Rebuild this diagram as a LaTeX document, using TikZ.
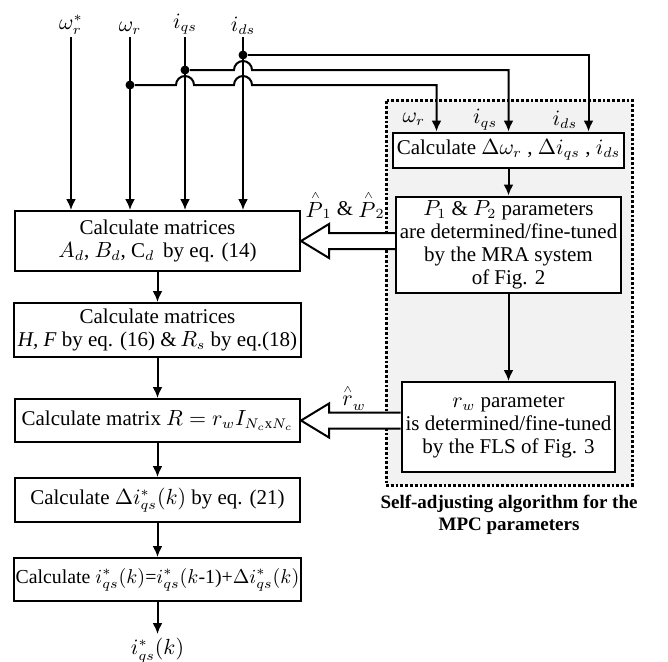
\documentclass[tikz,border=0pt]{standalone}
\usepackage{fontspec}
\setmainfont{Liberation Serif}
\usetikzlibrary{arrows.meta, backgrounds, calc, fit, positioning}
\tikzset{
  blk/.style    = {draw, fill=white, line width=1pt, align=center,
                   inner sep=2pt, minimum width=142.5pt},
  flow/.style   = {-{Latex[length=5.5pt,width=5pt]}, line width=1pt},
  wire/.style   = {line width=1pt},
  dot/.style    = {circle, fill, inner sep=0pt, minimum size=4.5pt},
  sig/.style    = {inner sep=1pt},
  % the two hollow arrows carry parameters, not signals
  fat/.style    = {draw, fill=white, line width=1pt, line join=miter},
  region/.style = {draw, fill=black!5, line width=1.5pt,
                   dash pattern=on 1.4pt off 1pt, inner sep=0pt},
  capt/.style   = {font=\fontsize{9.5}{11}\selectfont\bfseries, align=center,
                   inner sep=1pt},
}
\newcommand{\esthat}[1]{\stackrel{\scriptscriptstyle\wedge}{#1}}

\begin{document}
\begin{tikzpicture}[x=0.5pt, y=-0.5pt, font=\fontsize{10.5}{11.5}\selectfont]
  \useasboundingbox (0,0) rectangle (668,661);

  %% ---------------- MPC chain ----------------
  \node[blk, minimum height=30pt] (abc) at (157.5,241)
       {Calculate matrices\\$A_d$, $B_d$, C$_d$\, by eq. (14)};
  \node[blk, below=15pt of abc, minimum height=27pt] (hf)
       {Calculate matrices\\\textit{H, F} by eq. (16) \&\,$R_s$ by eq.(18)};
  \node[blk, below=20pt of hf, minimum height=21.5pt] (rmat)
       {Calculate matrix $R = r_w I_{N_c\mathrm{x}N_c}$};
  \node[blk, below=17pt of rmat, minimum height=22pt] (dik)
       {Calculate $\Delta i_{qs}^*(k)$ by eq. (21)};
  \node[blk, below=17pt of dik, minimum height=21.5pt,
        font=\fontsize{9.9}{11}\selectfont, inner xsep=1pt] (iqk)
       {Calculate $i_{qs}^*(k)$=$i_{qs}^*(k$-1)+$\Delta i_{qs}^*(k)$};
  \node[sig, inner sep=2pt, below=16pt of iqk] (out) {$i_{qs}^*(k)$};

  \draw[flow] (abc) -- (hf);
  \draw[flow] (hf) -- (rmat);
  \draw[flow] (rmat) -- (dik);
  \draw[flow] (dik) -- (iqk);
  \draw[flow] (iqk) -- (out);

  %% ---------------- inputs ----------------
  \node[sig, anchor=south] (lref) at (71,37) {$\omega_r^*$};
  \node[sig, anchor=south] (lw) at (130,37) {$\omega_r$};
  \node[sig, anchor=south] (lq) at (185,37) {$i_{qs}$};
  \node[sig, anchor=south] (ld) at (243,37) {$i_{ds}$};

  \foreach \s in {lref, lw, lq, ld}
    \draw[flow] (\s.south) -- (\s.south |- abc.north);

  \node[dot] (jd) at (243,55) {};
  \node[dot] (jq) at (185,70) {};
  \node[dot] (jw) at (130,85) {};

  %% ---------------- self-adjusting part ----------------
  \node[blk, minimum width=109.5pt, minimum height=17.5pt] (dcalc) at (508.5,150)
       {Calculate $\Delta\omega_r$ , $\Delta i_{qs}$ , $i_{ds}$};
  \node[blk, below=13.5pt of dcalc, minimum width=111pt, minimum height=45pt] (mra)
       {$P_1$ \& $P_2$ parameters\\are determined/fine-tuned\\by the MRA system\\of Fig. 2};
  \node[blk, below=43.5pt of mra, minimum width=106pt, minimum height=45pt] (flsb)
       {$r_w$ parameter\\is determined/fine-tuned\\by the FLS of Fig. 3};

  \coordinate (cw) at ($(dcalc.north)+(-72,0)$);
  \coordinate (cq) at (dcalc.north);
  \coordinate (cd) at ($(dcalc.north)+(80,0)$);
  \node[sig, anchor=east] at ($(cw)+(-9,-12)$) {$\omega_r$};
  \node[sig, anchor=east] at ($(cq)+(-9,-12)$) {$i_{qs}$};
  \node[sig, anchor=east] at ($(cd)+(-9,-12)$) {$i_{ds}$};

  \coordinate (rtl) at (386,100);
  \coordinate (rbr) at (632,485);
  \begin{scope}[on background layer]
    \node[region, fit=(rtl)(rbr)] (reg) {};
  \end{scope}
  \node[capt, below=3pt of reg]
       {Self-adjusting algorithm for the\\MPC parameters};

  \draw[flow] (dcalc) -- (mra);
  \draw[flow] (mra) -- (flsb);

  %% ---------------- feedback wires ----------------
  \draw[flow] (jd) -| (cd);
  \draw[flow] (jq) -- ($(jq -| ld.south)+(-9,0)$)
       arc[start angle=180, end angle=0, radius=4.5pt] -| (cq);
  \draw[flow] (jw) -- ($(jw -| lq.south)+(-9,0)$)
       arc[start angle=180, end angle=0, radius=4.5pt]
       -- ($(jw -| ld.south)+(-9,0)$)
       arc[start angle=180, end angle=0, radius=4.5pt] -| (cw);

  %% ---------------- hollow arrows ----------------
  \draw[fat] ($(abc.east -| mra.west)+(0,-8)$) -- ($(abc.east)+(28,-8)$)
       -- ($(abc.east)+(28,-17)$) -- (abc.east) -- ($(abc.east)+(28,17)$)
       -- ($(abc.east)+(28,8)$) -- ($(abc.east -| mra.west)+(0,8)$);
  \node[sig] at ($(abc.east)+(44,-36)$) {$\esthat{P}_1$ \& $\esthat{P}_2$};

  \draw[fat] ($(rmat.east -| flsb.west)+(0,-8)$) -- ($(rmat.east)+(28,-8)$)
       -- ($(rmat.east)+(28,-17)$) -- (rmat.east) -- ($(rmat.east)+(28,17)$)
       -- ($(rmat.east)+(28,8)$) -- ($(rmat.east -| flsb.west)+(0,8)$);
  \node[sig] at ($(rmat.east)+(53,-23)$) {$\esthat{r}_w$};

\end{tikzpicture}
\end{document}
